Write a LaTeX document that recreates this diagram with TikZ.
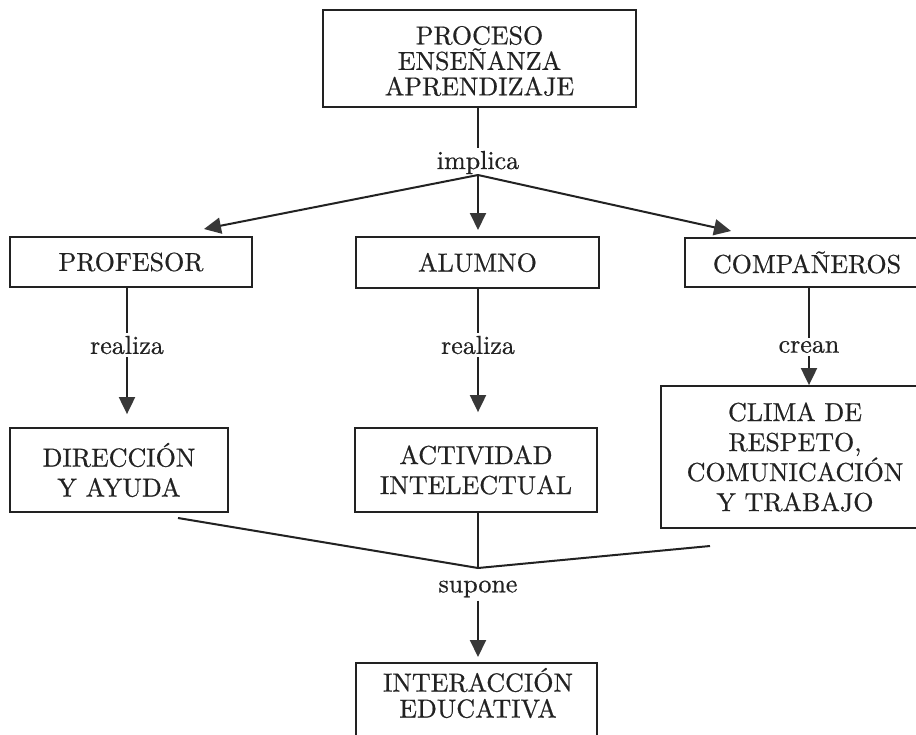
\documentclass[tikz,border=0pt]{standalone}
\usepackage{fontspec}
\setmainfont{lmroman10-regular.otf}[FakeBold=0.6]
\usetikzlibrary{arrows.meta}
\definecolor{ink}{HTML}{222222}
\definecolor{headc}{HTML}{383838}
\newcommand\diagfont{\fontsize{26}{30}\selectfont}
\begin{document}
\begin{tikzpicture}[x=1pt,y=-1pt,
  box/.style={draw=ink, line width=1.8pt, rectangle, inner sep=0pt, align=center, font=\diagfont, text=ink},
  lbl/.style={inner sep=3pt, font=\diagfont, text=ink},
  conn/.style={draw=ink, line width=2pt},
  thin/.style={draw=ink, line width=1.4pt},
  arr/.style={conn, -{Triangle[length=17pt,width=16pt,color=headc]}},
]
\useasboundingbox (0,0) rectangle (916,734);
\fill[white] (0,0) rectangle (916,734);

% boxes
\node[box, minimum width=313pt, minimum height=97pt] (top) at (479.5,58.5) {};
\node[font=\fontsize{26}{25.5}\selectfont, align=center, text=ink, inner sep=0pt] (toptxt) at (479.5,61) {PROCESO\\ENSEÑANZA\\APRENDIZAJE};
\node[box, minimum width=242pt, minimum height=50pt] (prof) at (131,262) {PROFESOR};
\node[box, minimum width=243pt, minimum height=51pt] (alum) at (477.5,262.5) {ALUMNO};
\node[box, minimum width=244pt, minimum height=49pt] (comp) at (807,262.5) {COMPAÑEROS};
\node[box, minimum width=218pt, minimum height=84pt] (dir) at (119,470) {DIRECCIÓN\\Y AYUDA};
\node[box, minimum width=242pt, minimum height=84pt] (act) at (476,470) {ACTIVIDAD\\INTELECTUAL};
\node[box, minimum width=268pt, minimum height=142pt] (clima) at (795,457) {CLIMA DE\\RESPETO,\\COMUNICACIÓN\\Y TRABAJO};
\node[box, minimum width=241pt, minimum height=90pt, anchor=north] (inter) at (476.5,662) {};
\node[font=\fontsize{26}{26}\selectfont, align=center, text=ink, inner sep=0pt] (intertxt) at (478,693) {INTERACCIÓN\\EDUCATIVA};

% labels
\node[lbl] (impl) at (478,162.5) {implica};
\node[lbl] (real1) at (127,345) {realiza};
\node[lbl] (real2) at (478,345) {realiza};
\node[lbl] (crean) at (809,347) {crean};
\node[lbl] (sup) at (478,589) {supone};

% coordinates
\coordinate (br) at (478,175);
\coordinate (proftip) at (204,229);
\coordinate (alumtip) at (478,230);
\coordinate (comptip) at (731,231);
\coordinate (jn) at (478,568);
\coordinate (dirend) at (178,518);
\coordinate (climaend) at (710,546);

% top branch
\draw[thin] (impl.north |- top.south) -- (impl.north);
\draw[arr] (br) -- (proftip);
\draw[arr] (br) -- (alumtip);
\draw[arr] (br) -- (comptip);

% middle row
\draw[thin] (prof.south -| real1) -- (real1.north);
\draw[arr, shorten >=13pt] (real1.south) -- (real1.south |- dir.north);
\draw[thin] (alum.south -| real2) -- (real2.north);
\draw[arr, shorten >=15pt] (real2.south) -- (real2.south |- act.north);
\draw[thin] (comp.south -| crean) -- (crean.north);
\draw[arr] (crean.south) -- (crean.south |- clima.north);

% bottom
\draw[conn] (dirend) -- (jn) -- (climaend);
\draw[thin] (act.south -| jn) -- (jn);
\draw[arr, shorten >=5pt] (sup.south) -- (sup.south |- inter.north);
\end{tikzpicture}
\end{document}
